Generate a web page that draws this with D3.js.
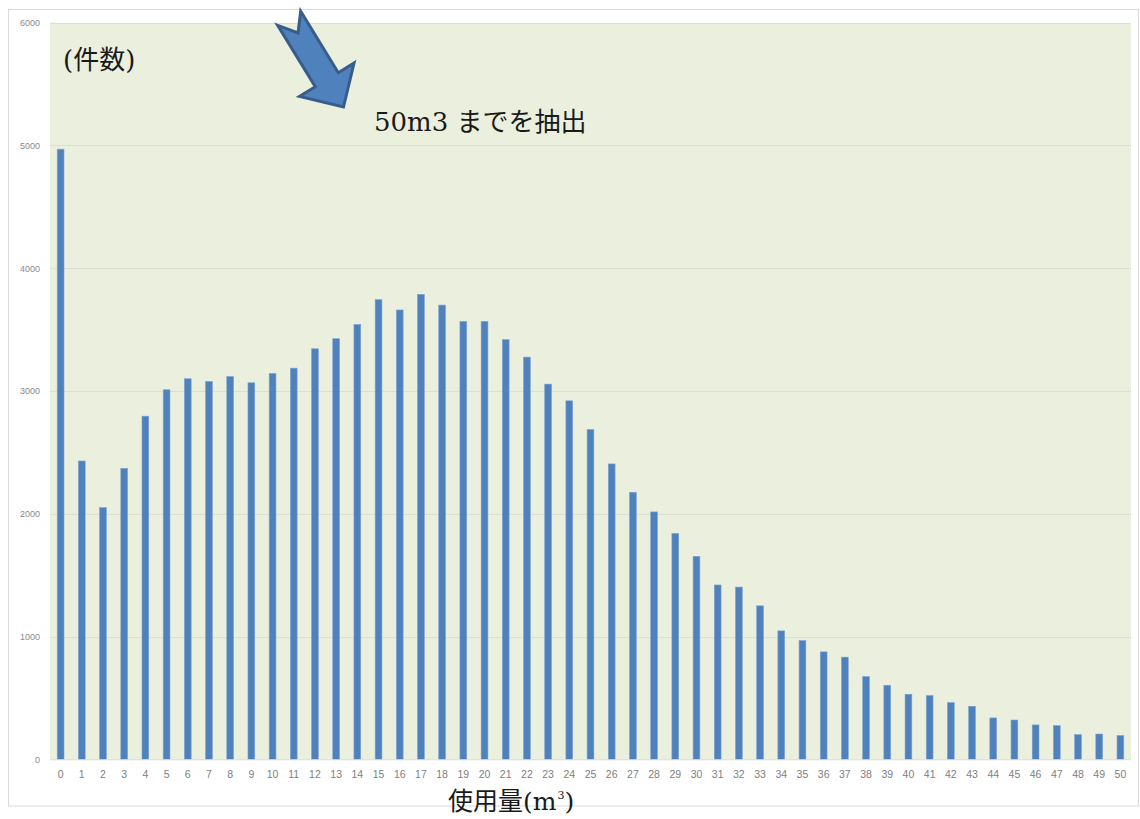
<!DOCTYPE html>
<html lang="ja">
<head>
<meta charset="utf-8">
<title>使用量別件数</title>
<script src="https://cdn.jsdelivr.net/npm/d3@7/dist/d3.min.js"></script>
<style>
  html, body { margin: 0; padding: 0; background: #ffffff; }
  svg { display: block; }
</style>
</head>
<body>
<svg id="chart" width="1140" height="819"></svg>
<script>
// 使用量 (m3) ごとの件数
const categories = ["0","1","2","3","4","5","6","7","8","9","10","11","12","13","14","15","16","17","18","19","20",
  "21","22","23","24","25","26","27","28","29","30","31","32","33","34","35","36","37","38","39","40",
  "41","42","43","44","45","46","47","48","49","50"];
const counts = [4970, 2430, 2050, 2370, 2795, 3010, 3100, 3078, 3118, 3067, 3143,
  3186, 3344, 3426, 3542, 3744, 3660, 3787, 3700, 3567, 3567,
  3418, 3276, 3056, 2920, 2686, 2406, 2175, 2015, 1840, 1653,
  1420, 1403, 1250, 1046, 967, 875, 832, 674, 603, 530,
  519, 462, 432, 337, 320, 280, 274, 201, 206, 193];
const yTicks = [0, 1000, 2000, 3000, 4000, 5000, 6000];
const yMax = 6000;

const svg = d3.select("#chart");

// outer chart frame
svg.append("rect")
  .attr("x", 8.5).attr("y", 9.5)
  .attr("width", 1130).attr("height", 796.5)
  .attr("fill", "#ffffff")
  .attr("stroke", "#d9d9d9")
  .attr("stroke-width", 1);

const plot = { left: 50, right: 1131, top: 22.7, bottom: 759.3 };

const x = d3.scaleBand()
  .domain(categories)
  .range([plot.left, plot.right])
  .paddingInner(0.68)
  .paddingOuter(0.34);

const y = d3.scaleLinear()
  .domain([0, yMax])
  .range([plot.bottom, plot.top]);

// plot area background
svg.append("rect")
  .attr("x", plot.left).attr("y", plot.top)
  .attr("width", plot.right - plot.left)
  .attr("height", plot.bottom - plot.top)
  .attr("fill", "#ebf0de");

// horizontal gridlines
svg.append("g")
  .selectAll("line")
  .data(yTicks.filter(d => d > 0))
  .join("line")
  .attr("x1", plot.left).attr("x2", plot.right)
  .attr("y1", d => Math.round(y(d)) + 0.5)
  .attr("y2", d => Math.round(y(d)) + 0.5)
  .attr("stroke", "#dcdfd2")
  .attr("stroke-width", 1);

// bars
svg.append("g")
  .selectAll("rect")
  .data(counts)
  .join("rect")
  .attr("x", (d, i) => x(categories[i]))
  .attr("y", d => y(d))
  .attr("width", x.bandwidth())
  .attr("height", d => y(0) - y(d))
  .attr("fill", "#4f81bd")
  .attr("stroke", "#7ea2cf")
  .attr("stroke-width", 0.6);

// category axis baseline
svg.append("line")
  .attr("x1", plot.left).attr("x2", plot.right)
  .attr("y1", plot.bottom + 0.5).attr("y2", plot.bottom + 0.5)
  .attr("stroke", "#d9d9d9");

// y axis
const yAxis = d3.axisLeft(y)
  .tickValues(yTicks)
  .tickSize(0)
  .tickPadding(10)
  .tickFormat(d3.format("d"));
const gy = svg.append("g")
  .attr("transform", `translate(${plot.left},0)`)
  .call(yAxis);
gy.select(".domain").remove();
gy.selectAll("text")
  .attr("fill", "#8a8a8a")
  .style("font-family", "'Liberation Sans', Arial, sans-serif")
  .style("font-size", "9px");

// x axis
const xAxis = d3.axisBottom(x).tickSize(0).tickPadding(11);
const gx = svg.append("g")
  .attr("transform", `translate(0,${plot.bottom})`)
  .call(xAxis);
gx.select(".domain").remove();
gx.selectAll("text")
  .attr("fill", "#808080")
  .style("font-family", "'Liberation Sans', Arial, sans-serif")
  .style("font-size", "10.5px");

// annotation text
const serif = "'DejaVu Serif', 'Liberation Serif', serif";
const cjk = "'Noto Sans CJK JP', sans-serif";

const unitLabel = svg.append("text")
  .attr("x", 63).attr("y", 68.5)
  .attr("fill", "#1a1a1a")
  .style("font-size", "26px");
unitLabel.append("tspan").style("font-family", serif).text("(");
unitLabel.append("tspan").style("font-family", cjk).text("件数");
unitLabel.append("tspan").style("font-family", serif).text(")");

const note = svg.append("text")
  .attr("x", 374).attr("y", 130.5)
  .attr("fill", "#1a1a1a")
  .style("font-size", "26px");
note.append("tspan").style("font-family", serif).text("50m3 ");
note.append("tspan").style("font-family", cjk).text("までを抽出");

const xTitle = svg.append("text")
  .attr("x", 448).attr("y", 810)
  .attr("fill", "#1a1a1a")
  .style("font-size", "25px");
xTitle.append("tspan").style("font-family", cjk).text("使用量");
xTitle.append("tspan").style("font-family", serif).text("(m");
xTitle.append("tspan").style("font-family", serif).style("font-size", "11px")
  .attr("dx", 1).attr("dy", -11).text("3");
xTitle.append("tspan").style("font-family", serif).attr("dy", 11).text(")");

// notched block arrow pointing down-right, built tip-first in its own frame
const arrow = { length: 104, shaftHalf: 13.5, headHalf: 32, headLength: 32, notch: 17 };
const arrowPts = [
  [0, 0],
  [-arrow.headLength, -arrow.headHalf],
  [-arrow.headLength, -arrow.shaftHalf],
  [-arrow.length, -arrow.shaftHalf],
  [-arrow.length + arrow.notch, 0],
  [-arrow.length, arrow.shaftHalf],
  [-arrow.headLength, arrow.shaftHalf],
  [-arrow.headLength, arrow.headHalf]
];
svg.append("path")
  .attr("d", d3.line()(arrowPts) + "Z")
  .attr("transform", "translate(343.5,107) rotate(58.5)")
  .attr("fill", "#4f81bd")
  .attr("stroke", "#385d8a")
  .attr("stroke-width", 3)
  .attr("stroke-linejoin", "miter");
</script>
</body>
</html>
